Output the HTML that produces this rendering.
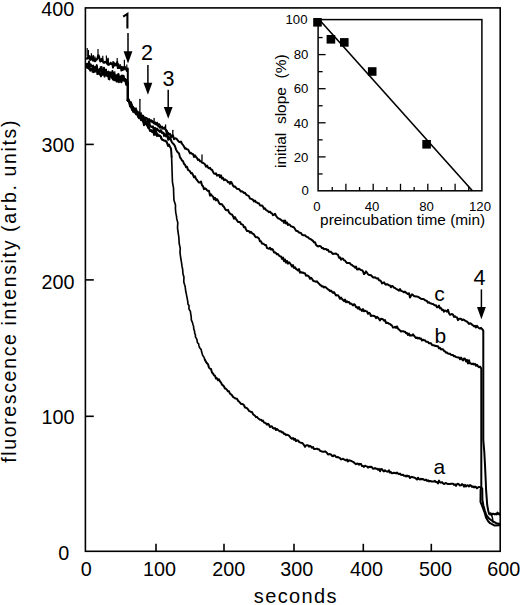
<!DOCTYPE html><html><head><meta charset="utf-8"><style>html,body{margin:0;padding:0;background:#fff;}svg{display:block;}text{font-family:"Liberation Sans",sans-serif;fill:#000;}</style></head><body>
<svg width="520" height="605" viewBox="0 0 520 605">
<rect width="520" height="605" fill="#fff"/>
<rect x="85.40" y="7.90" width="414.80" height="543.40" fill="none" stroke="#000" stroke-width="1.6"/>
<line x1="156.0" y1="551" x2="156.0" y2="543.8" stroke="#000" stroke-width="1.6"/>
<line x1="224.0" y1="551" x2="224.0" y2="543.8" stroke="#000" stroke-width="1.6"/>
<line x1="294.0" y1="551" x2="294.0" y2="543.8" stroke="#000" stroke-width="1.6"/>
<line x1="363.3" y1="551" x2="363.3" y2="543.8" stroke="#000" stroke-width="1.6"/>
<line x1="431.3" y1="551" x2="431.3" y2="543.8" stroke="#000" stroke-width="1.6"/>
<line x1="85.4" y1="416.3" x2="93.8" y2="416.3" stroke="#000" stroke-width="1.6"/>
<line x1="85.4" y1="279.9" x2="93.8" y2="279.9" stroke="#000" stroke-width="1.6"/>
<line x1="85.4" y1="144.4" x2="93.8" y2="144.4" stroke="#000" stroke-width="1.6"/>
<g fill="none" stroke="#000" stroke-width="2.0" stroke-linejoin="round" stroke-linecap="round">
<path d="M127.80 100.80L128.00 98.38L129.00 100.92L130.00 102.12L131.00 102.24L132.00 106.31L133.00 107.50L134.00 108.07L135.00 109.43L136.00 110.43L137.00 111.89L138.00 115.55L139.00 113.04L140.00 116.13L141.00 118.66L142.00 115.47L143.00 115.71L144.00 117.37L145.00 119.27L146.00 118.21L147.00 118.25L148.00 120.95L149.00 118.95L150.00 120.95L151.00 120.84L152.00 120.67L153.00 121.50L154.00 123.47L155.00 123.95L156.00 124.49L157.00 122.72L158.00 125.43L159.00 126.47L160.00 127.79L161.00 127.10L162.00 127.86L163.00 128.74L164.00 128.05L165.00 128.99L166.00 130.36L167.00 133.91L168.00 132.81L169.00 134.27L170.00 134.09L171.00 137.44L172.00 135.27L173.00 135.53L174.00 139.17L175.00 138.34L176.00 138.43L177.00 139.32L178.00 140.83L179.00 141.78L180.00 142.18L181.00 141.51L182.00 143.89L183.00 144.91L184.00 146.51L185.00 148.71L186.00 148.36L187.00 149.36L188.00 149.38L189.00 151.21L190.00 153.36L191.00 152.79L192.00 153.98L193.00 153.95L194.00 156.97L195.00 155.27L196.00 157.02L197.00 157.94L198.00 159.94L199.00 159.42L200.00 161.27L201.00 161.19L202.00 162.68L203.00 162.82L204.00 163.49L205.00 164.31L206.00 166.70L207.00 165.58L208.00 167.51L209.00 168.36L210.00 167.82L211.00 169.58L212.00 169.82L213.00 171.77L214.00 173.62L215.00 173.89L216.00 173.21L217.00 175.64L218.00 175.06L219.00 174.86L220.00 177.27L221.00 175.33L222.00 178.62L223.00 177.85L224.00 180.15L225.00 179.43L226.00 180.09L227.00 180.68L228.00 182.32L229.00 181.94L230.00 183.87L231.00 181.81L232.00 183.33L233.00 185.54L234.00 186.75L235.00 186.51L236.00 187.69L237.00 188.74L238.00 188.96L239.00 189.04L240.00 190.29L241.00 191.60L242.00 191.23L243.00 192.02L244.00 192.99L245.00 192.85L246.00 194.39L247.00 195.05L248.00 195.53L249.00 196.33L250.00 198.58L251.00 198.88L252.00 199.16L253.00 199.89L254.00 201.48L255.00 200.60L256.00 202.31L257.00 202.42L258.00 203.37L259.00 203.32L260.00 205.40L261.00 205.60L262.00 205.49L263.00 206.57L264.00 208.94L265.00 208.41L266.00 209.99L267.00 210.52L268.00 211.30L269.00 212.16L270.00 211.72L271.00 212.96L272.00 213.38L273.00 215.17L274.00 214.72L275.00 213.77L276.00 215.77L277.00 217.17L278.00 218.27L279.00 218.65L280.00 219.10L281.00 219.85L282.00 220.90L283.00 220.62L284.00 222.90L285.00 220.42L286.00 223.47L287.00 222.48L288.00 225.02L289.00 224.26L290.00 224.98L291.00 226.37L292.00 226.57L293.00 226.97L294.00 227.45L295.00 229.04L296.00 230.69L297.00 230.93L298.00 231.48L299.00 232.46L300.00 232.83L301.00 233.07L302.00 234.59L303.00 235.17L304.00 235.33L305.00 235.25L306.00 236.28L307.00 236.81L308.00 237.28L309.00 238.34L310.00 238.81L311.00 239.39L312.00 240.12L313.00 240.87L314.00 242.31L315.00 242.18L316.00 244.82L317.00 245.84L318.00 246.46L319.00 246.10L320.00 246.05L321.00 246.70L322.00 248.19L323.00 248.02L324.00 249.14L325.00 249.01L326.00 248.98L327.00 249.97L328.00 249.75L329.00 251.70L330.00 251.81L331.00 251.86L332.00 253.16L333.00 253.92L334.00 253.75L335.00 253.66L336.00 253.43L337.00 254.32L338.00 254.72L339.00 257.81L340.00 257.35L341.00 259.73L342.00 258.41L343.00 258.73L344.00 260.27L345.00 260.39L346.00 262.11L347.00 262.98L348.00 263.01L349.00 263.04L350.00 263.32L351.00 264.64L352.00 264.93L353.00 265.95L354.00 266.38L355.00 267.79L356.00 266.56L357.00 269.29L358.00 269.55L359.00 268.59L360.00 269.43L361.00 270.01L362.00 270.12L363.00 271.43L364.00 274.09L365.00 273.32L366.00 271.39L367.00 272.74L368.00 274.22L369.00 275.08L370.00 275.00L371.00 275.27L372.00 276.27L373.00 277.44L374.00 277.40L375.00 277.18L376.00 278.04L377.00 278.53L378.00 278.33L379.00 280.28L380.00 280.42L381.00 281.18L382.00 283.46L383.00 282.86L384.00 282.39L385.00 283.96L386.00 284.83L387.00 284.04L388.00 284.63L389.00 285.35L390.00 285.47L391.00 287.28L392.00 285.91L393.00 286.41L394.00 287.77L395.00 287.90L396.00 288.90L397.00 289.30L398.00 289.86L399.00 290.58L400.00 289.13L401.00 290.83L402.00 291.16L403.00 291.63L404.00 292.32L405.00 291.65L406.00 292.65L407.00 293.46L408.00 294.08L409.00 293.25L410.00 297.51L411.00 295.75L412.00 294.37L413.00 295.03L414.00 296.14L415.00 296.21L416.00 296.57L417.00 296.56L418.00 296.92L419.00 297.39L420.00 298.18L421.00 298.71L422.00 299.15L423.00 298.88L424.00 299.31L425.00 300.21L426.00 300.51L427.00 301.11L428.00 302.71L429.00 302.21L430.00 303.16L431.00 303.39L432.00 304.02L433.00 303.87L434.00 304.88L435.00 305.49L436.00 305.24L437.00 307.27L438.00 307.25L439.00 305.58L440.00 308.38L441.00 308.09L442.00 310.02L443.00 309.74L444.00 311.68L445.00 310.49L446.00 310.84L447.00 311.67L448.00 309.79L449.00 313.19L450.00 314.83L451.00 314.35L452.00 314.08L453.00 314.68L454.00 316.88L455.00 316.34L456.00 317.05L457.00 317.52L458.00 320.14L459.00 318.85L460.00 318.76L461.00 318.83L462.00 320.12L463.00 319.46L464.00 319.87L465.00 320.61L466.00 321.07L467.00 321.65L468.00 322.57L469.00 324.04L470.00 323.16L471.00 323.63L472.00 324.72L473.00 325.35L474.00 326.41L475.00 325.77L476.00 327.44L477.00 325.91L478.00 327.11L479.00 328.17L480.00 328.60L481.00 327.82L482.00 329.06L482.70 329.60L483.30 331.00L483.30 440.00L484.30 452.00L485.00 465.00L485.70 480.00L486.10 490.00L487.20 505.00L488.30 511.00L489.00 513.50L489.50 514.06L490.00 514.41L490.50 513.17L491.00 513.86L491.50 513.99L492.00 514.59L492.50 514.26L493.00 513.63L493.50 513.91L494.00 513.91L494.50 514.29L495.00 514.43L495.50 513.83L496.00 513.93L496.50 514.34L497.00 513.50L497.50 512.60L498.00 514.29L498.50 513.33L499.00 513.76L499.50 513.60L500.00 514.70"/>
<path d="M127.80 100.80L128.00 101.02L129.00 101.05L130.00 103.67L131.00 103.66L132.00 106.71L133.00 107.86L134.00 110.14L135.00 112.38L136.00 114.15L137.00 112.00L138.00 116.10L139.00 114.67L140.00 117.11L141.00 117.87L142.00 118.34L143.00 121.33L144.00 120.41L145.00 118.80L146.00 121.52L147.00 121.46L148.00 123.57L149.00 119.99L150.00 126.18L151.00 126.25L152.00 127.11L153.00 127.55L154.00 129.50L155.00 127.83L156.00 131.94L157.00 128.49L158.00 130.08L159.00 131.00L160.00 132.06L161.00 130.03L162.00 132.98L163.00 132.47L164.00 133.48L165.00 134.66L166.00 135.68L167.00 134.39L168.00 136.35L169.00 139.40L170.00 137.34L171.00 140.21L172.00 142.39L173.00 143.55L174.00 144.51L175.00 146.20L176.00 149.37L177.00 151.36L178.00 152.47L179.00 153.37L180.00 157.34L181.00 158.63L182.00 160.52L183.00 161.02L184.00 163.87L185.00 164.70L186.00 167.26L187.00 166.75L188.00 169.83L189.00 170.50L190.00 171.34L191.00 173.28L192.00 173.10L193.00 174.94L194.00 177.26L195.00 176.27L196.00 178.82L197.00 179.97L198.00 181.52L199.00 182.57L200.00 182.52L201.00 181.56L202.00 185.26L203.00 186.23L204.00 189.11L205.00 188.34L206.00 188.88L207.00 190.29L208.00 190.95L209.00 190.84L210.00 195.65L211.00 194.26L212.00 195.77L213.00 196.49L214.00 199.36L215.00 197.87L216.00 200.35L217.00 199.17L218.00 200.54L219.00 202.90L220.00 204.25L221.00 204.11L222.00 204.14L223.00 206.07L224.00 206.86L225.00 208.79L226.00 210.00L227.00 210.31L228.00 209.88L229.00 212.37L230.00 213.51L231.00 214.31L232.00 214.45L233.00 216.22L234.00 218.70L235.00 217.17L236.00 218.99L237.00 220.41L238.00 221.93L239.00 221.94L240.00 221.97L241.00 223.97L242.00 224.36L243.00 224.82L244.00 227.29L245.00 227.03L246.00 229.25L247.00 231.09L248.00 231.02L249.00 231.16L250.00 232.72L251.00 231.81L252.00 233.18L253.00 233.81L254.00 234.44L255.00 236.25L256.00 237.33L257.00 237.12L258.00 237.72L259.00 238.58L260.00 241.36L261.00 241.31L262.00 243.52L263.00 243.70L264.00 244.13L265.00 245.12L266.00 244.97L267.00 248.01L268.00 248.39L269.00 248.84L270.00 247.82L271.00 249.61L272.00 248.91L273.00 249.85L274.00 252.38L275.00 252.39L276.00 253.12L277.00 254.36L278.00 253.98L279.00 255.57L280.00 256.30L281.00 256.38L282.00 258.84L283.00 257.61L284.00 261.26L285.00 259.44L286.00 262.65L287.00 260.97L288.00 263.61L289.00 262.26L290.00 263.26L291.00 264.74L292.00 266.55L293.00 265.12L294.00 268.03L295.00 267.23L296.00 268.89L297.00 269.59L298.00 270.51L299.00 269.03L300.00 272.64L301.00 272.08L302.00 272.80L303.00 272.47L304.00 273.20L305.00 273.34L306.00 275.74L307.00 275.29L308.00 275.90L309.00 276.53L310.00 278.81L311.00 277.77L312.00 278.84L313.00 280.58L314.00 281.27L315.00 281.24L316.00 281.84L317.00 281.33L318.00 282.75L319.00 283.64L320.00 284.96L321.00 285.45L322.00 286.49L323.00 286.36L324.00 287.55L325.00 286.79L326.00 287.51L327.00 288.46L328.00 289.30L329.00 289.94L330.00 291.26L331.00 290.56L332.00 291.76L333.00 292.86L334.00 292.14L335.00 293.81L336.00 295.46L337.00 295.21L338.00 295.28L339.00 296.83L340.00 298.74L341.00 297.53L342.00 298.97L343.00 299.99L344.00 301.14L345.00 299.60L346.00 302.23L347.00 301.19L348.00 302.26L349.00 302.03L350.00 303.79L351.00 303.52L352.00 304.29L353.00 305.48L354.00 304.21L355.00 304.86L356.00 307.20L357.00 307.09L358.00 308.58L359.00 307.12L360.00 309.49L361.00 309.41L362.00 310.99L363.00 309.04L364.00 311.30L365.00 310.73L366.00 311.18L367.00 311.53L368.00 313.82L369.00 312.76L370.00 313.54L371.00 316.05L372.00 315.64L373.00 315.71L374.00 315.91L375.00 316.44L376.00 318.09L377.00 316.80L378.00 317.65L379.00 318.92L380.00 320.37L381.00 318.66L382.00 318.93L383.00 319.47L384.00 320.70L385.00 320.04L386.00 322.96L387.00 322.73L388.00 322.97L389.00 323.86L390.00 323.95L391.00 324.94L392.00 325.57L393.00 327.59L394.00 327.45L395.00 326.71L396.00 327.88L397.00 326.43L398.00 328.64L399.00 329.50L400.00 330.43L401.00 331.52L402.00 331.29L403.00 331.18L404.00 331.74L405.00 331.64L406.00 333.25L407.00 333.00L408.00 335.00L409.00 333.58L410.00 335.67L411.00 335.29L412.00 335.54L413.00 334.31L414.00 335.64L415.00 336.93L416.00 338.08L417.00 337.44L418.00 338.48L419.00 337.78L420.00 338.73L421.00 338.47L422.00 340.49L423.00 339.68L424.00 340.32L425.00 340.18L426.00 341.83L427.00 341.65L428.00 341.94L429.00 343.33L430.00 343.34L431.00 343.19L432.00 345.09L433.00 345.31L434.00 345.36L435.00 345.96L436.00 345.80L437.00 346.22L438.00 346.15L439.00 348.35L440.00 347.73L441.00 349.41L442.00 349.30L443.00 349.35L444.00 350.82L445.00 351.41L446.00 352.68L447.00 352.57L448.00 353.58L449.00 353.74L450.00 353.79L451.00 354.85L452.00 354.88L453.00 355.05L454.00 356.26L455.00 356.10L456.00 357.11L457.00 357.16L458.00 357.62L459.00 357.52L460.00 359.12L461.00 357.51L462.00 359.26L463.00 360.49L464.00 358.47L465.00 358.75L466.00 361.47L467.00 359.80L468.00 363.39L469.00 360.22L470.00 363.52L471.00 363.53L472.00 364.19L473.00 363.53L474.00 364.50L475.00 363.92L476.00 365.75L477.00 364.74L478.00 366.36L479.00 367.24L480.00 366.62L480.80 367.70L481.30 369.00L481.30 487.00L480.60 490.00L480.50 502.00L482.60 507.20L484.60 512.50L486.00 517.50L488.00 521.00L490.10 523.20L494.30 525.40L500.00 525.30"/>
<path d="M127.80 100.80L128.00 98.35L129.00 100.61L130.00 106.34L131.00 104.22L132.00 108.97L133.00 106.92L134.00 110.47L135.00 108.96L136.00 112.47L137.00 112.99L138.00 115.99L139.00 116.40L140.00 117.72L141.00 120.23L142.00 120.04L143.00 120.32L144.00 125.31L145.00 122.24L146.00 124.28L147.00 125.15L148.00 126.63L149.00 128.33L150.00 130.62L151.00 130.66L152.00 130.27L153.00 131.01L154.00 132.14L155.00 129.35L156.00 134.91L157.00 133.20L158.00 134.82L159.00 135.97L160.00 135.89L161.00 136.71L162.00 139.67L163.00 140.03L164.00 140.42L165.00 140.63L166.00 141.17L167.00 142.68L168.00 146.08L169.00 144.62L170.20 147.15L171.00 148.48L171.60 156.79"/>
<path d="M205.00 359.81L206.00 361.93L207.00 363.32L208.00 364.23L209.00 367.65L210.00 368.66L211.00 368.99L212.00 372.57L213.00 373.49L214.00 375.34L215.00 375.76L216.00 378.56L217.00 378.33L218.00 380.16L219.00 379.38L220.00 381.44L221.00 382.55L222.00 384.63L223.00 385.36L224.00 386.50L225.00 388.50L226.00 388.82L227.00 389.88L228.00 391.35L229.00 391.33L230.00 393.69L231.00 394.27L232.00 395.23L233.00 396.89L234.00 397.53L235.00 398.23L236.00 398.63L237.00 398.68L238.00 400.80L239.00 401.58L240.00 402.67L241.00 403.96L242.00 403.88L243.00 404.36L244.00 405.24L245.00 407.48L246.00 407.79L247.00 408.10L248.00 409.33L249.00 410.92L250.00 411.32L251.00 411.93L252.00 411.96L253.00 414.18L254.00 414.96L255.00 415.71L256.00 417.13L257.00 416.93L258.00 418.27L259.00 418.97L260.00 419.72L261.00 419.66L262.00 420.93L263.00 420.61L264.00 422.59L265.00 422.80L266.00 423.33L267.00 424.71L268.00 423.81L269.00 424.79L270.00 427.08L271.00 426.22L272.00 426.49L273.00 428.16L274.00 428.62L275.00 427.99L276.00 430.00L277.00 429.01L278.00 429.91L279.00 430.75L280.00 431.41L281.00 431.21L282.00 432.51L283.00 432.25L284.00 433.94L285.00 433.77L286.00 435.16L287.00 434.65L288.00 435.10L289.00 435.61L290.00 436.87L291.00 438.18L292.00 438.76L293.00 437.98L294.00 439.77L295.00 438.71L296.00 441.12L297.00 440.30L298.00 440.38L299.00 441.87L300.00 442.37L301.00 442.76L302.00 442.87L303.00 443.73L304.00 445.10L305.00 446.78L306.00 445.50L307.00 445.24L308.00 445.27L309.00 446.61L310.00 445.81L311.00 446.51L312.00 447.81L313.00 446.94L314.00 449.09L315.00 448.88L316.00 448.82L317.00 448.71L318.00 449.35L319.00 449.19L320.00 450.78L321.00 451.11L322.00 451.55L323.00 451.76L324.00 451.83L325.00 451.29L326.00 452.04L327.00 452.89L328.00 454.40L329.00 454.31L330.00 454.10L331.00 454.36L332.00 455.86L333.00 456.17L334.00 455.31L335.00 455.62L336.00 456.84L337.00 457.25L338.00 457.07L339.00 457.69L340.00 458.08L341.00 459.45L342.00 459.16L343.00 458.72L344.00 459.44L345.00 459.99L346.00 460.45L347.00 459.48L348.00 461.45L349.00 460.20L350.00 460.66L351.00 460.78L352.00 461.45L353.00 461.87L354.00 462.45L355.00 463.49L356.00 464.14L357.00 463.54L358.00 463.69L359.00 464.74L360.00 463.87L361.00 464.07L362.00 466.00L363.00 466.06L364.00 466.87L365.00 465.73L366.00 466.13L367.00 466.37L368.00 467.61L369.00 466.67L370.00 467.20L371.00 466.69L372.00 467.37L373.00 468.69L374.00 468.64L375.00 467.95L376.00 468.68L377.00 468.75L378.00 469.81L379.00 468.90L380.00 471.22L381.00 468.97L382.00 469.16L383.00 470.68L384.00 471.41L385.00 470.26L386.00 471.18L387.00 471.57L388.00 471.71L389.00 470.37L390.00 472.65L391.00 472.13L392.00 473.31L393.00 473.05L394.00 472.68L395.00 472.90L396.00 473.41L397.00 472.46L398.00 473.40L399.00 474.24L400.00 473.64L401.00 474.74L402.00 474.90L403.00 474.73L404.00 475.83L405.00 475.67L406.00 476.43L407.00 475.47L408.00 476.38L409.00 475.97L410.00 478.00L411.00 477.18L412.00 476.81L413.00 477.22L414.00 477.53L415.00 477.91L416.00 478.60L417.00 479.64L418.00 477.68L419.00 479.11L420.00 479.48L421.00 478.72L422.00 479.43L423.00 478.99L424.00 479.83L425.00 480.24L426.00 479.60L427.00 480.87L428.00 480.22L429.00 481.39L430.00 480.98L431.00 481.27L432.00 481.55L433.00 481.45L434.00 481.62L435.00 480.82L436.00 482.11L437.00 482.12L438.00 483.50L439.00 480.65L440.00 482.34L441.00 482.70L442.00 482.14L443.00 483.23L444.00 484.07L445.00 483.45L446.00 482.98L447.00 483.63L448.00 484.15L449.00 483.90L450.00 483.97L451.00 483.87L452.00 483.80L453.00 483.63L454.00 484.90L455.00 484.29L456.00 485.83L457.00 484.21L458.00 483.71L459.00 484.43L460.00 485.43L461.00 485.29L462.00 484.01L463.00 484.77L464.00 486.64L465.00 484.89L466.00 486.40L467.00 485.47L468.00 485.34L469.00 486.53L470.00 485.10L471.00 485.65L472.00 487.04L473.00 486.32L474.00 487.38L475.00 486.53L476.00 487.02L477.00 488.25L478.00 487.39L479.00 486.92L480.00 487.12L480.90 487.60L482.20 488.30L482.30 492.00L482.40 500.00L483.40 505.50L484.80 510.50L486.50 515.50L489.00 518.50L493.00 521.50L496.30 523.20L500.00 524.00"/>
<path d="M171.60 156.79L172.45 182.05L173.53 188.11L173.70 194.40L173.98 200.25L175.48 204.93L175.44 209.04L175.82 212.95L176.57 216.65L176.71 218.64L177.79 222.77L177.51 227.87L178.07 232.08L178.86 237.44L179.20 243.33L180.25 248.32L179.99 252.46L180.71 258.01L181.45 262.22L182.03 266.43L182.64 269.26L182.98 273.97L183.94 277.08L183.77 281.71L184.44 284.22L185.11 286.16L185.31 287.93L185.82 291.80L186.28 293.65L186.73 296.07L187.11 297.90L187.75 301.33L188.01 304.29L188.99 305.60L188.99 309.02L190.40 311.33L190.81 314.62L191.17 316.13L191.34 319.88L191.74 320.94L192.69 323.18L192.93 324.73L193.53 326.01L193.71 328.45L194.65 331.76L194.69 333.26L195.42 334.68L195.46 337.04L196.23 338.13L197.01 339.81L197.28 342.16L197.78 343.05L198.58 343.65L198.87 345.48L199.70 347.59L199.29 346.99L200.13 348.45L201.11 349.27L201.60 351.81L202.66 355.21L204.21 357.61L204.72 359.81" stroke-width="1.65"/>
<path d="M86.60 58.49L87.20 57.95L87.80 58.68L88.40 56.09L89.00 57.88L89.60 56.08L90.20 59.98L90.80 57.50L91.40 59.07L92.00 58.19L92.60 60.45L93.20 55.90L93.80 60.66L94.40 58.41L95.00 61.22L95.60 60.65L96.20 59.23L96.80 59.60L97.40 58.56L98.00 55.94L98.60 55.28L99.20 56.81L99.80 60.30L100.40 61.57L101.00 59.26L101.60 61.00L102.20 58.62L102.80 61.29L103.40 62.68L104.00 62.92L104.60 61.95L105.20 61.75L105.80 62.49L106.40 61.78L107.00 63.82L107.60 59.37L108.20 64.82L108.80 64.85L109.40 64.07L110.00 63.91L110.60 62.67L111.20 64.06L111.80 63.58L112.40 64.41L113.00 67.64L113.60 62.56L114.20 65.83L114.80 63.53L115.40 63.91L116.00 65.37L116.60 65.00L117.20 61.97L117.80 68.10L118.40 64.30L119.00 67.99L119.60 66.29L120.20 67.90L120.80 66.56L121.40 70.49L122.00 66.87L122.60 69.92L123.20 67.28L123.80 69.44L124.40 66.91L125.00 66.89L125.60 68.55L126.20 69.61L126.80 70.84L127.40 68.56L127.80 68.56L127.80 100.80" stroke-width="2.0"/>
<path d="M86.60 67.50L87.20 63.83L87.80 66.83L88.40 65.98L89.00 61.62L89.60 64.22L90.20 66.28L90.80 64.56L91.40 66.05L92.00 65.85L92.60 67.08L93.20 68.40L93.80 68.46L94.40 67.13L95.00 69.14L95.60 66.72L96.20 68.68L96.80 65.13L97.40 69.85L98.00 69.71L98.60 71.99L99.20 70.48L99.80 68.77L100.40 70.29L101.00 71.17L101.60 66.89L102.20 71.16L102.80 70.10L103.40 72.39L104.00 70.72L104.60 71.40L105.20 69.73L105.80 74.76L106.40 72.78L107.00 73.48L107.60 72.19L108.20 71.58L108.80 72.58L109.40 76.04L110.00 72.14L110.60 74.67L111.20 72.87L111.80 75.51L112.40 71.02L113.00 75.38L113.60 72.80L114.20 77.14L114.80 74.12L115.40 77.68L116.00 78.25L116.60 76.92L117.20 74.75L117.80 77.43L118.40 73.94L119.00 75.77L119.60 77.47L120.20 80.96L120.80 76.20L121.40 78.48L122.00 75.60L122.60 79.40L123.20 75.73L123.80 76.33L124.40 80.44L125.00 79.21L125.60 80.84L126.20 82.87L126.80 79.65L127.40 82.31L127.80 82.31L127.80 100.80" stroke-width="2.0"/>
<path d="M86.60 66.17L87.20 65.47L87.80 68.03L88.40 67.00L89.00 68.97L89.60 66.38L90.20 70.71L90.80 69.60L91.40 69.84L92.00 68.27L92.60 71.85L93.20 65.85L93.80 72.19L94.40 70.69L95.00 70.75L95.60 71.59L96.20 71.51L96.80 68.54L97.40 74.02L98.00 72.49L98.60 73.78L99.20 69.44L99.80 74.35L100.40 75.06L101.00 76.31L101.60 73.15L102.20 70.10L102.80 74.73L103.40 74.52L104.00 67.68L104.60 76.57L105.20 70.86L105.80 73.63L106.40 74.16L107.00 76.06L107.60 75.16L108.20 75.03L108.80 79.08L109.40 79.37L110.00 74.03L110.60 75.40L111.20 74.47L111.80 77.74L112.40 78.24L113.00 79.51L113.60 76.16L114.20 80.30L114.80 77.45L115.40 80.12L116.00 77.54L116.60 81.51L117.20 81.41L117.80 81.41L118.40 76.88L119.00 82.17L119.60 77.44L120.20 78.99L120.80 81.64L121.40 82.30L122.00 79.94L122.60 77.63L123.20 80.49L123.80 79.83L124.40 80.62L125.00 78.97L125.60 82.11L126.20 84.78L126.80 83.63L127.40 82.99L127.80 82.99L127.80 100.80" stroke-width="2.0"/>
<path d="M128.00 98.12L129.00 101.66L130.00 103.27L131.00 104.49L132.00 105.15L133.00 106.74L134.00 109.72L135.00 109.12L136.00 108.13L137.00 111.50L138.00 112.75L139.00 111.65L140.00 115.91L141.00 112.81L142.00 118.29L143.00 115.66L144.00 119.62L145.00 117.22L146.00 117.69L147.00 118.92L148.00 120.45L149.00 120.50L150.00 121.85L151.00 119.82L152.00 122.60L153.00 122.56L154.00 122.80L155.00 122.06L156.00 123.26L157.00 124.89L158.00 125.91L159.00 123.83L160.00 125.06L161.00 127.41L162.00 126.38L163.00 127.58L164.00 128.13L165.00 126.89L166.00 130.89L167.00 130.43L168.00 133.64L169.00 134.77L170.00 133.58" stroke-width="1.5"/>
<path d="M128.00 99.63L129.00 101.65L130.00 103.28L131.00 104.81L132.00 109.01L133.00 112.09L134.00 109.05L135.00 109.60L136.00 112.93L137.00 113.36L138.00 114.37L139.00 115.16L140.00 115.43L141.00 116.88L142.00 119.88L143.00 121.06L144.00 120.40L145.00 120.92L146.00 122.92L147.00 123.85L148.00 125.09L149.00 123.73L150.00 126.62L151.00 126.83L152.00 127.08L153.00 126.08L154.00 129.32L155.00 128.52L156.00 130.73L157.00 129.57L158.00 130.41L159.00 130.19L160.00 131.16L161.00 130.89L162.00 132.91L163.00 132.68L164.00 136.38L165.00 133.83L166.00 136.64L167.00 135.73L168.00 140.03L169.00 138.18L170.00 139.15" stroke-width="1.5"/>
<path d="M128.00 99.01L129.00 101.71L130.00 106.29L131.00 107.44L132.00 110.30L133.00 108.34L134.00 112.53L135.00 112.22L136.00 113.23L137.00 114.36L138.00 117.34L139.00 118.45L140.00 117.14L141.00 118.91L142.00 120.23L143.00 120.54L144.00 124.08L145.00 123.82L146.00 123.95L147.00 125.33L148.00 128.06L149.00 126.68L150.00 131.19L151.00 130.11L152.00 132.32L153.00 132.00L154.00 135.40L155.00 133.10L156.00 134.23L157.00 136.44L158.00 135.35L159.00 135.04L160.00 135.54L161.00 138.43L162.00 139.57L163.00 139.77L164.00 140.87L165.00 140.39L166.00 141.62L167.00 142.22L168.00 144.96L169.00 144.83" stroke-width="1.5"/>
<path d="M88.4 56.6L88.4 49.9" stroke-width="1.2" stroke-linecap="butt"/>
<path d="M91.4 59.6L91.4 53.2" stroke-width="1.2" stroke-linecap="butt"/>
<path d="M95.0 61.7L95.0 56.4" stroke-width="1.2" stroke-linecap="butt"/>
<path d="M98.0 56.4L98.0 48.9" stroke-width="1.2" stroke-linecap="butt"/>
<path d="M102.8 61.8L102.8 55.8" stroke-width="1.2" stroke-linecap="butt"/>
<path d="M106.4 62.3L106.4 55.4" stroke-width="1.2" stroke-linecap="butt"/>
<path d="M108.2 65.3L108.2 57.8" stroke-width="1.2" stroke-linecap="butt"/>
<path d="M113.0 68.1L113.0 60.9" stroke-width="1.2" stroke-linecap="butt"/>
<path d="M117.2 62.5L117.2 58.0" stroke-width="1.2" stroke-linecap="butt"/>
<path d="M120.2 68.4L120.2 64.1" stroke-width="1.2" stroke-linecap="butt"/>
<path d="M124.4 67.4L124.4 59.7" stroke-width="1.2" stroke-linecap="butt"/>
<path d="M126.8 71.3L126.8 64.4" stroke-width="1.2" stroke-linecap="butt"/>
<path d="M86.6 68.0L86.6 63.4" stroke-width="1.2" stroke-linecap="butt"/>
<path d="M93.2 68.9L93.2 64.7" stroke-width="1.2" stroke-linecap="butt"/>
<path d="M100.4 70.8L100.4 66.3" stroke-width="1.2" stroke-linecap="butt"/>
<path d="M106.4 73.3L106.4 68.7" stroke-width="1.2" stroke-linecap="butt"/>
<path d="M114.8 74.6L114.8 71.3" stroke-width="1.2" stroke-linecap="butt"/>
<path d="M120.2 81.5L120.2 77.5" stroke-width="1.2" stroke-linecap="butt"/>
<path d="M127.4 82.8L127.4 80.1" stroke-width="1.2" stroke-linecap="butt"/>
<path d="M86.6 66.7L86.6 62.9" stroke-width="1.2" stroke-linecap="butt"/>
<path d="M98.0 73.0L98.0 69.1" stroke-width="1.2" stroke-linecap="butt"/>
<path d="M108.2 75.5L108.2 72.2" stroke-width="1.2" stroke-linecap="butt"/>
<path d="M117.8 81.9L117.8 78.7" stroke-width="1.2" stroke-linecap="butt"/>
<path d="M126.2 85.3L126.2 81.3" stroke-width="1.2" stroke-linecap="butt"/>
<path d="M87.2 56.5L87.2 48.0" stroke-width="1.2" stroke-linecap="butt"/>
<path d="M489 513.8L491.2 514.8L492.3 517L493 521.8" stroke-width="1.5"/>
<path d="M139.9 115.0L139.9 99.3" stroke-width="1.3"/>
<path d="M154.1 122.5L154.1 118.4" stroke-width="1.3"/>
<path d="M165.6 129.5L165.6 125.0" stroke-width="1.3"/>
<path d="M172.8 137.0L172.8 130.3" stroke-width="1.3"/>
<path d="M202.0 161.0L202.0 154.9" stroke-width="1.3"/>
</g>
<line x1="128.0" y1="33.0" x2="128.0" y2="52.2" stroke="#000" stroke-width="1.5"/><path d="M123.6 51.2L132.4 51.2L128.0 63.5Z" fill="#000"/>
<line x1="147.9" y1="65.1" x2="147.9" y2="83.8" stroke="#000" stroke-width="1.5"/><path d="M143.5 82.8L152.3 82.8L147.9 94.7Z" fill="#000"/>
<line x1="168.2" y1="89.7" x2="168.2" y2="108.0" stroke="#000" stroke-width="1.5"/><path d="M163.8 107.0L172.6 107.0L168.2 118.8Z" fill="#000"/>
<line x1="481.4" y1="289.4" x2="481.4" y2="308.0" stroke="#000" stroke-width="1.5"/><path d="M477.0 307.0L485.8 307.0L481.4 319.2Z" fill="#000"/>
<path d="M123.2 16.6L127.4 13.9L127.4 28.6" fill="none" stroke="#000" stroke-width="2.1" stroke-linejoin="miter"/>
<text x="141.12" y="59.71" font-size="21.50">2</text>
<text x="162.58" y="86.21" font-size="21.50">3</text>
<text x="473.39" y="284.69" font-size="21.50">4</text>
<text x="434.28" y="300.99" font-size="21.00">c</text>
<text x="434.42" y="342.59" font-size="21.00">b</text>
<text x="433.51" y="474.19" font-size="21.00">a</text>
<text x="41.34" y="15.83" font-size="19.80">400</text>
<text x="41.54" y="151.93" font-size="19.80">300</text>
<text x="41.54" y="288.63" font-size="19.80">200</text>
<text x="41.54" y="424.23" font-size="19.80">100</text>
<text x="58.26" y="559.63" font-size="19.80">0</text>
<text x="80.83" y="575.83" font-size="19.80">0</text>
<text x="142.89" y="575.83" font-size="19.80">100</text>
<text x="212.30" y="575.83" font-size="19.80">200</text>
<text x="280.25" y="575.83" font-size="19.80">300</text>
<text x="349.95" y="575.83" font-size="19.80">400</text>
<text x="419.01" y="575.83" font-size="19.80">500</text>
<text x="487.29" y="575.83" font-size="19.80">600</text>
<text x="253.84" y="602.80" font-size="20" letter-spacing="1.37">seconds</text>
<text transform="translate(16.2 462.60) rotate(-90)" x="-0.28" y="0" font-size="19.5" textLength="342.39" lengthAdjust="spacing">fluorescence intensity (arb. units)</text>
<rect x="318.1" y="19.6" width="163.8" height="171.2" fill="#fff" stroke="#000" stroke-width="1.5"/>
<line x1="332.25" y1="190.8" x2="332.25" y2="187.0" stroke="#000" stroke-width="1.3"/>
<line x1="345.90" y1="190.8" x2="345.90" y2="183.8" stroke="#000" stroke-width="1.3"/>
<line x1="359.55" y1="190.8" x2="359.55" y2="187.0" stroke="#000" stroke-width="1.3"/>
<line x1="373.20" y1="190.8" x2="373.20" y2="183.8" stroke="#000" stroke-width="1.3"/>
<line x1="386.85" y1="190.8" x2="386.85" y2="187.0" stroke="#000" stroke-width="1.3"/>
<line x1="400.50" y1="190.8" x2="400.50" y2="183.8" stroke="#000" stroke-width="1.3"/>
<line x1="414.15" y1="190.8" x2="414.15" y2="187.0" stroke="#000" stroke-width="1.3"/>
<line x1="427.80" y1="190.8" x2="427.80" y2="183.8" stroke="#000" stroke-width="1.3"/>
<line x1="441.45" y1="190.8" x2="441.45" y2="187.0" stroke="#000" stroke-width="1.3"/>
<line x1="455.10" y1="190.8" x2="455.10" y2="183.8" stroke="#000" stroke-width="1.3"/>
<line x1="468.75" y1="190.8" x2="468.75" y2="187.0" stroke="#000" stroke-width="1.3"/>
<line x1="318.1" y1="173.95" x2="322.6" y2="173.95" stroke="#000" stroke-width="1.3"/>
<line x1="318.1" y1="156.90" x2="325.6" y2="156.90" stroke="#000" stroke-width="1.3"/>
<line x1="318.1" y1="139.85" x2="322.6" y2="139.85" stroke="#000" stroke-width="1.3"/>
<line x1="318.1" y1="122.80" x2="325.6" y2="122.80" stroke="#000" stroke-width="1.3"/>
<line x1="318.1" y1="105.75" x2="322.6" y2="105.75" stroke="#000" stroke-width="1.3"/>
<line x1="318.1" y1="88.70" x2="325.6" y2="88.70" stroke="#000" stroke-width="1.3"/>
<line x1="318.1" y1="71.65" x2="322.6" y2="71.65" stroke="#000" stroke-width="1.3"/>
<line x1="318.1" y1="54.60" x2="325.6" y2="54.60" stroke="#000" stroke-width="1.3"/>
<line x1="318.1" y1="37.55" x2="322.6" y2="37.55" stroke="#000" stroke-width="1.3"/>
<line x1="318.5" y1="18.8" x2="472.4" y2="190.8" stroke="#000" stroke-width="1.6"/>
<rect x="313.2" y="18.0" width="8.6" height="8.6" fill="#000"/>
<rect x="326.6" y="35.0" width="8.6" height="8.6" fill="#000"/>
<rect x="340.0" y="38.1" width="8.6" height="8.6" fill="#000"/>
<rect x="367.9" y="67.2" width="8.6" height="8.6" fill="#000"/>
<rect x="422.3" y="140.0" width="8.6" height="8.6" fill="#000"/>
<text x="285.49" y="24.22" font-size="13.20">100</text>
<text x="293.63" y="59.02" font-size="13.20">80</text>
<text x="293.73" y="93.12" font-size="13.20">60</text>
<text x="293.73" y="127.72" font-size="13.20">40</text>
<text x="293.73" y="161.52" font-size="13.20">20</text>
<text x="301.47" y="195.32" font-size="13.20">0</text>
<text x="313.23" y="210.62" font-size="13.20">0</text>
<text x="364.67" y="210.62" font-size="13.20">40</text>
<text x="419.13" y="210.62" font-size="13.20">80</text>
<text x="469.04" y="210.62" font-size="13.20">120</text>
<text x="320.11" y="225.46" font-size="15.40">preincubation time (min)</text>
<text transform="translate(286.3 167.0) rotate(-90)" x="-1.04" y="0" font-size="15.5" style="white-space:pre">initial  slope  (%)</text>
</svg></body></html>
